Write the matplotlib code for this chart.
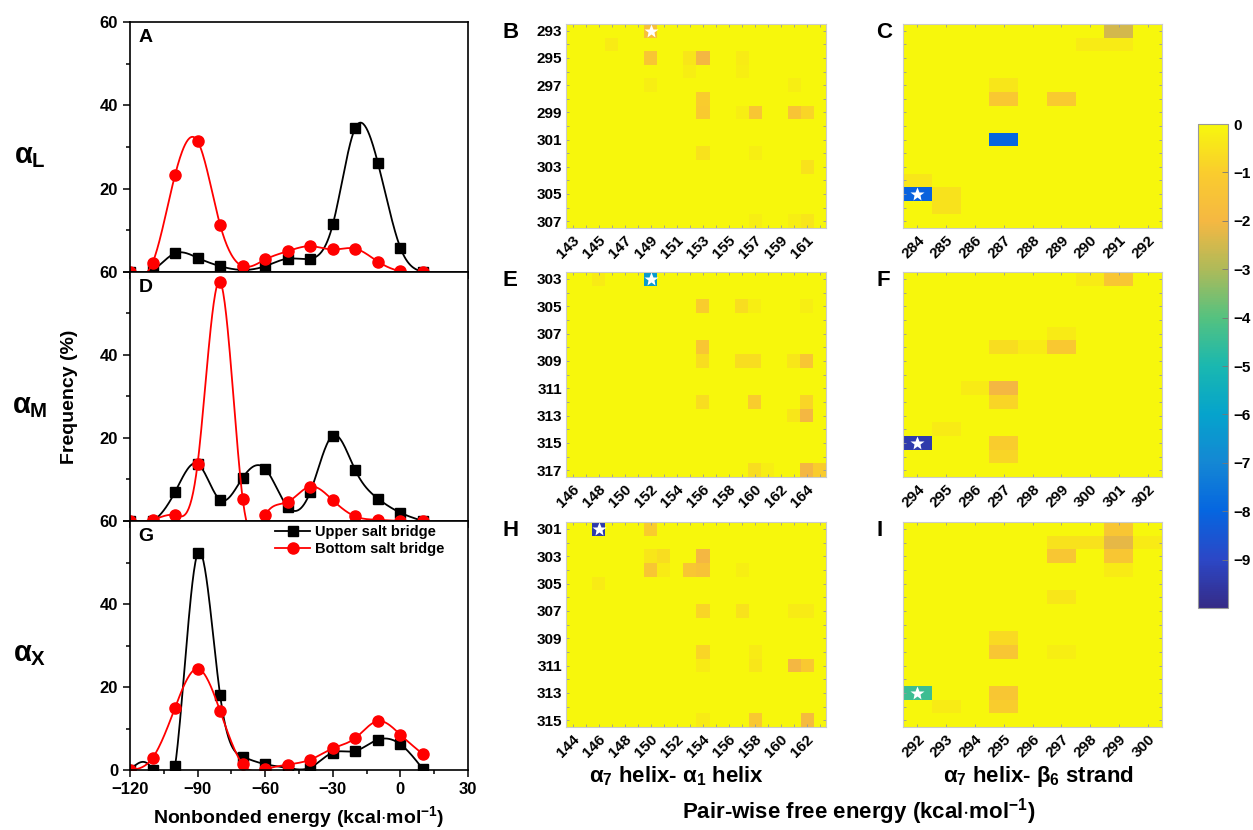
import numpy as np
import matplotlib
matplotlib.use('Agg')
import matplotlib.pyplot as plt
from matplotlib.colors import LinearSegmentedColormap
from matplotlib.ticker import MultipleLocator

plt.rcParams['font.family'] = ['Liberation Sans', 'DejaVu Sans']
plt.rcParams['font.weight'] = 'bold'
plt.rcParams['mathtext.fontset'] = 'custom'
plt.rcParams['mathtext.rm'] = 'Liberation Sans:bold'
plt.rcParams['mathtext.it'] = 'Liberation Sans:bold'
plt.rcParams['mathtext.bf'] = 'Liberation Sans:bold'

# ---- nonbonded energy histograms (left column) ----
energy = [-120, -110, -100, -90, -80, -70, -60, -50, -40, -30, -20, -10, 0, 10]

upper_L = [0, 0.4, 4.5, 3.4, 1.4, 0.5, 1.4, 3.2, 3.2, 11.4, 34.6, 26.2, 5.8, 0]
bottom_L = [0, 2.2, 23.3, 31.4, 11.3, 1.4, 3.0, 5.0, 6.2, 5.4, 5.6, 2.5, 0.2, 0]

upper_M = [0, 0, 7.0, 13.8, 5.1, 10.4, 12.6, 3.4, 7.0, 20.6, 12.2, 5.4, 2.0, 0]
bottom_M = [0, 0.3, 1.4, 13.8, 57.6, 5.4, 1.4, 4.6, 8.3, 5.0, 1.1, 0.3, 0, 0]

upper_X = [0, 0, 0.9, 52.2, 18.0, 3.2, 1.4, 0.5, 0.6, 4.2, 4.6, 7.3, 6.2, 0.2]
bottom_X = [0, 2.9, 15.0, 24.4, 14.2, 1.4, 0.2, 1.3, 2.5, 5.2, 7.7, 11.8, 8.5, 3.8]

# ---- pair-wise free energy maps: (column residue, row residue, value) ----
b_cols = list(range(143, 163)); b_rows = list(range(293, 308))
b_cells = [(149, 293, -1.6), (146, 294, -0.3), (149, 295, -1.3), (152, 295, -0.4),
           (153, 295, -2.0), (152, 296, -0.2), (156, 295, -0.3), (156, 296, -0.2),
           (149, 297, -0.2), (160, 297, -0.2), (153, 298, -1.0), (153, 299, -1.1),
           (156, 299, -0.2), (157, 299, -1.3), (160, 299, -1.4), (161, 299, -0.8),
           (153, 302, -0.5), (157, 302, -0.2), (161, 303, -0.5), (157, 307, -0.2),
           (160, 307, -0.2), (161, 307, -0.4)]
b_star = (149, 293)

c_cols = list(range(284, 293)); c_rows = list(range(293, 308))
c_cells = [(291, 293, -2.5), (290, 294, -0.3), (291, 294, -0.3), (287, 297, -0.4),
           (287, 298, -1.2), (289, 298, -1.1), (287, 301, -8.0), (284, 304, -0.4),
           (284, 305, -8.1), (285, 305, -0.5), (285, 306, -0.5)]
c_star = (284, 305)

e_cols = list(range(146, 166)); e_rows = list(range(303, 318))
e_cells = [(152, 303, -6.3), (148, 303, -0.3), (156, 305, -1.0), (156, 308, -1.3),
           (156, 309, -0.6), (156, 312, -0.6), (159, 305, -0.6), (160, 305, -0.2),
           (159, 309, -0.6), (160, 309, -0.6), (160, 312, -1.0), (163, 309, -0.4),
           (163, 313, -0.4), (164, 305, -0.2), (164, 309, -1.3), (164, 312, -0.8),
           (164, 313, -2.0), (160, 317, -0.6), (161, 317, -0.2), (164, 317, -2.0),
           (165, 317, -1.0)]
e_star = (152, 303)

f_cols = list(range(294, 303)); f_rows = list(range(303, 318))
f_cells = [(300, 303, -0.3), (301, 303, -1.3), (299, 307, -0.3), (297, 308, -0.6),
           (298, 308, -0.3), (299, 308, -1.2), (296, 311, -0.3), (297, 311, -2.0),
           (297, 312, -0.8), (295, 314, -0.3), (294, 315, -9.4), (297, 315, -1.0),
           (297, 316, -0.8)]
f_star = (294, 315)

h_cols = list(range(144, 164)); h_rows = list(range(301, 316))
h_cells = [(146, 301, -9.4), (150, 301, -1.0), (150, 303, -0.4), (150, 304, -1.3),
           (151, 303, -0.6), (151, 304, -0.3), (153, 304, -1.3), (154, 303, -2.0),
           (154, 304, -1.5), (154, 307, -0.8), (154, 310, -0.8), (154, 311, -0.3),
           (154, 315, -0.3), (146, 305, -0.3), (157, 304, -0.2), (157, 307, -0.5),
           (158, 310, -0.3), (158, 311, -0.4), (158, 315, -1.2), (161, 307, -0.3),
           (161, 311, -2.0), (162, 307, -0.3), (162, 311, -1.2), (162, 315, -1.8)]
h_star = (146, 301)

i_cols = list(range(292, 301)); i_rows = list(range(301, 316))
i_cells = [(299, 301, -1.3), (297, 302, -0.5), (298, 302, -0.5), (299, 302, -2.2),
           (300, 302, -0.3), (297, 303, -1.3), (299, 303, -1.3), (299, 304, -0.3),
           (297, 306, -0.4), (295, 309, -0.7), (295, 310, -1.3), (297, 310, -0.2),
           (292, 313, -4.4), (295, 313, -1.3), (293, 314, -0.3), (295, 314, -1.0)]
i_star = (292, 313)

# parula-like colour map, dark blue (-10) to yellow (0)
parula = LinearSegmentedColormap.from_list('parula', [
    (0.00, (0.21, 0.17, 0.53)), (0.10, (0.17, 0.28, 0.78)), (0.20, (0.02, 0.40, 0.88)),
    (0.30, (0.08, 0.53, 0.83)), (0.40, (0.02, 0.64, 0.80)), (0.50, (0.10, 0.72, 0.69)),
    (0.60, (0.33, 0.76, 0.50)), (0.70, (0.68, 0.73, 0.35)), (0.80, (0.96, 0.72, 0.26)),
    (0.90, (0.98, 0.80, 0.18)), (1.00, (0.97, 0.97, 0.05))])


def spline(x, y, num=400):
    x = np.asarray(x, float)
    y = np.asarray(y, float)
    n = len(x)
    h = np.diff(x)
    A = np.zeros((n, n))
    r = np.zeros(n)
    A[0, 0] = A[-1, -1] = 1
    for i in range(1, n - 1):
        A[i, i - 1] = h[i - 1]
        A[i, i] = 2 * (h[i - 1] + h[i])
        A[i, i + 1] = h[i]
        r[i] = 6 * ((y[i + 1] - y[i]) / h[i] - (y[i] - y[i - 1]) / h[i - 1])
    M = np.linalg.solve(A, r)
    xs = np.linspace(x[0], x[-1], num)
    idx = np.clip(np.searchsorted(x, xs) - 1, 0, n - 2)
    x0, x1 = x[idx], x[idx + 1]
    hh = x1 - x0
    a = (x1 - xs) / hh
    b = (xs - x0) / hh
    ys = a * y[idx] + b * y[idx + 1] + ((a**3 - a) * M[idx] + (b**3 - b) * M[idx + 1]) * hh**2 / 6
    return xs, ys


W, H = 1253, 830
fig = plt.figure(figsize=(W / 100, H / 100), dpi=100)


def box(x0, y0, x1, y1):
    return [x0 / W, 1 - y1 / H, (x1 - x0) / W, (y1 - y0) / H]


# ---- left column ----
left_panels = [('A', r'$\alpha_L$', upper_L, bottom_L, 22, 272),
               ('D', r'$\alpha_M$', upper_M, bottom_M, 272, 521),
               ('G', r'$\alpha_X$', upper_X, bottom_X, 521, 770)]
for k, (letter, rowlab, up, bot, ytop, ybot) in enumerate(left_panels):
    ax = fig.add_axes(box(130, ytop, 468, ybot))
    xs, ys = spline(energy, up)
    ax.plot(xs, ys, color='black', lw=1.3)
    ax.plot(energy, up, 's', color='black', ms=7, label='Upper salt bridge')
    xs, ys = spline(energy, bot)
    ax.plot(xs, ys, color='red', lw=1.3)
    ax.plot(energy, bot, 'o', color='red', ms=8, label='Bottom salt bridge')
    ax.set_xlim(-120, 30)
    ax.set_ylim(0, 60)
    ax.set_yticks([0, 20, 40, 60])
    ax.yaxis.set_minor_locator(MultipleLocator(10))
    ax.set_xticks([-120, -90, -60, -30, 0, 30])
    ax.xaxis.set_minor_locator(MultipleLocator(15))
    ax.tick_params(which='both', direction='out', width=1.1, labelsize=12)
    ax.tick_params(which='major', length=5)
    ax.tick_params(which='minor', length=3)
    for s in ax.spines.values():
        s.set_linewidth(1.2)
    if k < 2:
        ax.set_yticklabels(['', '20', '40', '60'])
        ax.set_xticklabels([])
    else:
        ax.set_xticklabels(['\u2212120', '\u221290', '\u221260', '\u221230', '0', '30'])
        h1, = ax.plot([], [], 's-', color='black', ms=7, lw=1.3)
        h2, = ax.plot([], [], 'o-', color='red', ms=8, lw=1.3)
        ax.legend([h1, h2], ['Upper salt bridge', 'Bottom salt bridge'], loc='upper left',
                  bbox_to_anchor=(0.43, 0.985), frameon=False, fontsize=10.5,
                  handlelength=2.4, handletextpad=0.3, labelspacing=0.25,
                  borderpad=0, borderaxespad=0)
    ax.text(0.025, 0.97, letter, transform=ax.transAxes, fontsize=14,
            fontweight='bold', va='top', ha='left')
    fig.text(30 / W, 1 - ((ytop + ybot) / 2 + 9) / H, rowlab, fontsize=21,
             ha='center', va='center')

fig.text(70 / W, 1 - 397 / H, 'Frequency (%)', rotation=90, fontsize=14,
         fontweight='bold', ha='center', va='center')
fig.text(299 / W, 1 - 823 / H, r'Nonbonded energy (kcal$\cdot$mol$^{-1}$)', fontsize=14,
         fontweight='bold', ha='center', va='baseline')

# ---- heat maps ----
maps = [('B', b_cols, b_rows, b_cells, b_star, 566, 24, 826, 228, True),
        ('C', c_cols, c_rows, c_cells, c_star, 903, 24, 1162, 228, False),
        ('E', e_cols, e_rows, e_cells, e_star, 566, 272, 826, 477, True),
        ('F', f_cols, f_rows, f_cells, f_star, 903, 272, 1162, 477, False),
        ('H', h_cols, h_rows, h_cells, h_star, 566, 522, 826, 727, True),
        ('I', i_cols, i_rows, i_cells, i_star, 903, 522, 1162, 727, False)]
im = None
for letter, cols, rows, cells, star, x0, y0, x1, y1, ylabels in maps:
    ax = fig.add_axes(box(x0, y0, x1, y1))
    data = np.zeros((len(rows), len(cols)))
    for c, r, v in cells:
        data[r - rows[0], c - cols[0]] = v
    im = ax.imshow(data, cmap=parula, vmin=-10, vmax=0, aspect='auto',
                   interpolation='nearest',
                   extent=(cols[0] - 0.5, cols[-1] + 0.5, rows[-1] + 0.5, rows[0] - 0.5))
    ax.plot(star[0], star[1], '*', color='white', ms=10, mec='none')
    ax.set_xticks(cols)
    ax.set_xticklabels([str(c) if (c - cols[0]) % 2 == 0 or len(cols) < 12 else ''
                        for c in cols], rotation=45, ha='right', rotation_mode='anchor')
    ax.set_yticks(rows)
    if ylabels:
        ax.set_yticklabels([str(r) if (r - rows[0]) % 2 == 0 else '' for r in rows])
    else:
        ax.set_yticklabels([])
    ax.tick_params(direction='in', length=2.5, width=0.6, color='#999999',
                   top=True, right=True, labelsize=11, pad=3)
    ax.tick_params(axis='x', pad=4)
    for s in ax.spines.values():
        s.set_color('#cccccc')
        s.set_linewidth(0.8)
    lx = x0 - 63 if ylabels else x0 - 27
    fig.text(lx / W, 1 - (y0 + 9) / H, letter, fontsize=16, fontweight='bold',
             ha='left', va='center')

fig.text(677 / W, 1 - 782 / H, r'$\alpha_7$ helix- $\alpha_1$ helix', fontsize=16,
         fontweight='bold', ha='center', va='baseline')
fig.text(1038 / W, 1 - 782 / H, r'$\alpha_7$ helix- $\beta_6$ strand', fontsize=16,
         fontweight='bold', ha='center', va='baseline')
fig.text(859 / W, 1 - 818 / H, r'Pair-wise free energy (kcal$\cdot$mol$^{-1}$)', fontsize=16,
         fontweight='bold', ha='center', va='baseline')

# ---- colour bar ----
cax = fig.add_axes(box(1198, 124, 1228, 608))
cb = fig.colorbar(im, cax=cax, ticks=list(range(-9, 1)))
cb.outline.set_edgecolor('#999999')
cb.outline.set_linewidth(0.8)
cax.tick_params(direction='in', length=4, width=0.6, color='#777777', labelsize=11, pad=4)

fig.savefig('out.png', dpi=100)
